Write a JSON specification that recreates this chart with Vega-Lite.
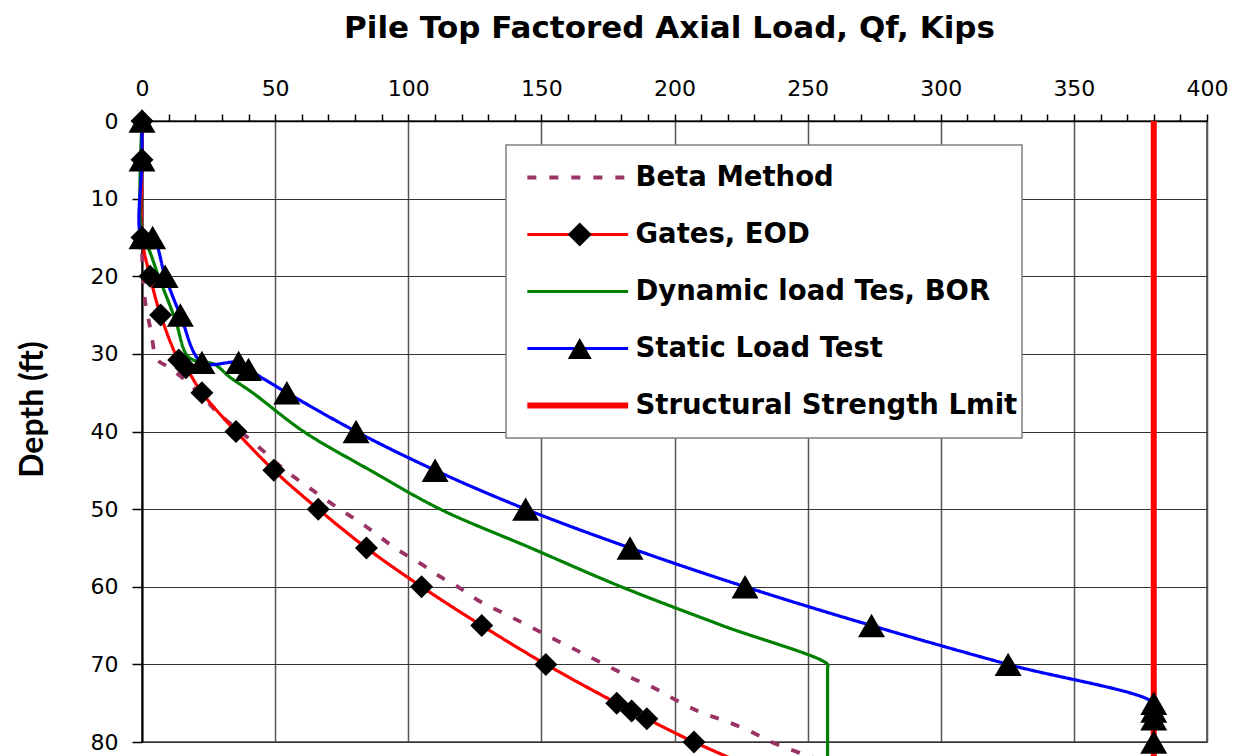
{
  "$schema": "https://vega.github.io/schema/vega-lite/v6.json",
  "width": 1065,
  "height": 621,
  "autosize": {"type": "none"},
  "padding": {"left": 142, "top": 121, "right": 36, "bottom": 14},
  "background": "white",
  "config": {"view": {"stroke": "#404040", "strokeWidth": 1.5}, "font": "DejaVu Sans"},
  "data": {"values": [
    {"series": "Beta Method", "load": 0, "depth": 0},
    {"series": "Beta Method", "load": 0, "depth": 16},
    {"series": "Beta Method", "load": 0.5, "depth": 21},
    {"series": "Beta Method", "load": 1.5, "depth": 24},
    {"series": "Beta Method", "load": 3, "depth": 26.5},
    {"series": "Beta Method", "load": 4, "depth": 28.5},
    {"series": "Beta Method", "load": 5, "depth": 30.3},
    {"series": "Beta Method", "load": 6.5, "depth": 31},
    {"series": "Beta Method", "load": 9.5, "depth": 31.6},
    {"series": "Beta Method", "load": 16, "depth": 33.3},
    {"series": "Beta Method", "load": 23, "depth": 35.6},
    {"series": "Beta Method", "load": 29.4, "depth": 37.9},
    {"series": "Beta Method", "load": 37, "depth": 40},
    {"series": "Beta Method", "load": 45.5, "depth": 42.5},
    {"series": "Beta Method", "load": 53.8, "depth": 45},
    {"series": "Beta Method", "load": 63, "depth": 47.3},
    {"series": "Beta Method", "load": 73.8, "depth": 49.9},
    {"series": "Beta Method", "load": 84, "depth": 52.2},
    {"series": "Beta Method", "load": 95, "depth": 55},
    {"series": "Beta Method", "load": 104.5, "depth": 57},
    {"series": "Beta Method", "load": 112, "depth": 58.7},
    {"series": "Beta Method", "load": 119.5, "depth": 60.2},
    {"series": "Beta Method", "load": 127, "depth": 61.9},
    {"series": "Beta Method", "load": 135.7, "depth": 63.4},
    {"series": "Beta Method", "load": 145, "depth": 65},
    {"series": "Beta Method", "load": 154.5, "depth": 66.7},
    {"series": "Beta Method", "load": 163.3, "depth": 68.2},
    {"series": "Beta Method", "load": 172, "depth": 69.7},
    {"series": "Beta Method", "load": 183, "depth": 71.6},
    {"series": "Beta Method", "load": 192.7, "depth": 73.1},
    {"series": "Beta Method", "load": 202.7, "depth": 75},
    {"series": "Beta Method", "load": 210.8, "depth": 76.3},
    {"series": "Beta Method", "load": 218.3, "depth": 77.2},
    {"series": "Beta Method", "load": 227.7, "depth": 78.5},
    {"series": "Beta Method", "load": 237, "depth": 80.1},
    {"series": "Beta Method", "load": 247, "depth": 81.4},
    {"series": "Beta Method", "load": 260, "depth": 83},
    {"series": "Gates, EOD", "load": 0, "depth": 0},
    {"series": "Gates, EOD", "load": 0, "depth": 5},
    {"series": "Gates, EOD", "load": 0, "depth": 15},
    {"series": "Gates, EOD", "load": 3, "depth": 20},
    {"series": "Gates, EOD", "load": 7, "depth": 25},
    {"series": "Gates, EOD", "load": 13.8, "depth": 30.8},
    {"series": "Gates, EOD", "load": 16.5, "depth": 31.8},
    {"series": "Gates, EOD", "load": 22.5, "depth": 35},
    {"series": "Gates, EOD", "load": 35.3, "depth": 40},
    {"series": "Gates, EOD", "load": 49.5, "depth": 45},
    {"series": "Gates, EOD", "load": 66.2, "depth": 50},
    {"series": "Gates, EOD", "load": 84.3, "depth": 55},
    {"series": "Gates, EOD", "load": 105, "depth": 60},
    {"series": "Gates, EOD", "load": 127.6, "depth": 65},
    {"series": "Gates, EOD", "load": 151.7, "depth": 70},
    {"series": "Gates, EOD", "load": 178.3, "depth": 75},
    {"series": "Gates, EOD", "load": 183.9, "depth": 76},
    {"series": "Gates, EOD", "load": 189.6, "depth": 77},
    {"series": "Gates, EOD", "load": 207.3, "depth": 80},
    {"series": "Gates, EOD", "load": 241, "depth": 85},
    {"series": "Dynamic load Tes, BOR", "load": 0, "depth": 0},
    {"series": "Dynamic load Tes, BOR", "load": 0, "depth": 15},
    {"series": "Dynamic load Tes, BOR", "load": 2.5, "depth": 16.5},
    {"series": "Dynamic load Tes, BOR", "load": 6.2, "depth": 20},
    {"series": "Dynamic load Tes, BOR", "load": 12.5, "depth": 25.6},
    {"series": "Dynamic load Tes, BOR", "load": 16.9, "depth": 30.2},
    {"series": "Dynamic load Tes, BOR", "load": 21, "depth": 31},
    {"series": "Dynamic load Tes, BOR", "load": 27, "depth": 31.3},
    {"series": "Dynamic load Tes, BOR", "load": 33, "depth": 33},
    {"series": "Dynamic load Tes, BOR", "load": 41.5, "depth": 35},
    {"series": "Dynamic load Tes, BOR", "load": 60.7, "depth": 40},
    {"series": "Dynamic load Tes, BOR", "load": 85.7, "depth": 45},
    {"series": "Dynamic load Tes, BOR", "load": 112, "depth": 50},
    {"series": "Dynamic load Tes, BOR", "load": 146, "depth": 55},
    {"series": "Dynamic load Tes, BOR", "load": 180, "depth": 60},
    {"series": "Dynamic load Tes, BOR", "load": 218, "depth": 65},
    {"series": "Dynamic load Tes, BOR", "load": 257.5, "depth": 70},
    {"series": "Dynamic load Tes, BOR", "load": 257.5, "depth": 70.5},
    {"series": "Dynamic load Tes, BOR", "load": 257.5, "depth": 95},
    {"series": "Static Load Test", "load": 0, "depth": 0},
    {"series": "Static Load Test", "load": 0, "depth": 5},
    {"series": "Static Load Test", "load": 0, "depth": 15},
    {"series": "Static Load Test", "load": 4, "depth": 15},
    {"series": "Static Load Test", "load": 8.7, "depth": 20},
    {"series": "Static Load Test", "load": 14.4, "depth": 25},
    {"series": "Static Load Test", "load": 22.5, "depth": 31.1},
    {"series": "Static Load Test", "load": 36.3, "depth": 31.1},
    {"series": "Static Load Test", "load": 40, "depth": 32},
    {"series": "Static Load Test", "load": 54.4, "depth": 35},
    {"series": "Static Load Test", "load": 80.4, "depth": 40},
    {"series": "Static Load Test", "load": 110.1, "depth": 45},
    {"series": "Static Load Test", "load": 144.1, "depth": 50},
    {"series": "Static Load Test", "load": 183.3, "depth": 55},
    {"series": "Static Load Test", "load": 226.5, "depth": 60},
    {"series": "Static Load Test", "load": 274, "depth": 65},
    {"series": "Static Load Test", "load": 325.3, "depth": 70},
    {"series": "Static Load Test", "load": 380, "depth": 75},
    {"series": "Static Load Test", "load": 380, "depth": 76},
    {"series": "Static Load Test", "load": 380, "depth": 77},
    {"series": "Static Load Test", "load": 380, "depth": 80},
    {"series": "Structural Strength Lmit", "load": 380, "depth": 0},
    {"series": "Structural Strength Lmit", "load": 380, "depth": 95}
  ]},
  "encoding": {
    "x": {
      "field": "load", "type": "quantitative",
      "scale": {"domain": [0, 400], "nice": false},
      "axis": {
        "orient": "top",
        "values": [0,10,20,30,40,50,60,70,80,90,100,110,120,130,140,150,160,170,180,190,200,210,220,230,240,250,260,270,280,290,300,310,320,330,340,350,360,370,380,390,400],
        "labelExpr": "datum.value % 50 === 0 ? datum.label : ''",
        "labelFont": "DejaVu Sans", "labelFontSize": 22, "labelColor": "black",
        "labelPadding": 14, "labelOverlap": false, "labelBound": false, "labelFlush": false,
        "tickColor": "black", "tickWidth": 1.5, "tickSize": 7,
        "domainColor": "black", "domainWidth": 1.5,
        "grid": true, "gridColor": "#555555", "gridWidth": 1.5,
        "gridOpacity": {"condition": {"test": "datum.value % 50 === 0", "value": 1}, "value": 0},
        "title": "Pile Top Factored Axial Load, Qf, Kips",
        "titleFont": "DejaVu Sans", "titleFontWeight": "bold", "titleFontSize": 31, "titleColor": "black",
        "titleX": 527, "titleY": -84, "titleBaseline": "alphabetic", "titleAlign": "center"
      }
    },
    "y": {
      "field": "depth", "type": "quantitative",
      "scale": {"domain": [0, 80], "reverse": true, "nice": false},
      "axis": {
        "orient": "left",
        "values": [0,10,20,30,40,50,60,70,80],
        "labelFont": "DejaVu Sans", "labelFontSize": 22, "labelColor": "black",
        "labelPadding": 14, "labelOverlap": false,
        "tickSize": 10, "tickColor": "black", "tickWidth": 1.5,
        "domainColor": "black", "domainWidth": 2,
        "grid": true, "gridColor": "#333333", "gridWidth": 1,
        "title": "Depth (ft)",
        "titleFont": "Lato",
        "titleFontWeight": "bold", "titleFontSize": 32, "titleColor": "black",
        "titleAngle": 270, "titleX": -100, "titleY": 288, "titleBaseline": "alphabetic", "titleAlign": "center"
      }
    }
  },
  "layer": [
    {
      "mark": {"type": "line", "interpolate": "catmull-rom"},
      "encoding": {
        "color": {
          "field": "series", "type": "nominal",
          "scale": {
            "domain": ["Beta Method", "Gates, EOD", "Dynamic load Tes, BOR", "Static Load Test", "Structural Strength Lmit"],
            "range": ["#993366", "#FF0000", "#008000", "#0000FF", "#FF0000"]
          },
          "legend": {
            "title": null, "orient": "none", "legendX": 364, "legendY": 24, "direction": "vertical",
            "padding": 4, "fillColor": "white", "strokeColor": "#808080",
            "clipHeight": 57, "rowPadding": 0,
            "symbolType": "M-4.2,0H4.2", "symbolSize": 576, "symbolOffset": 54, "symbolStrokeWidth": 3,
            "labelOffset": 44, "labelFont": "DejaVu Sans", "labelFontWeight": "bold", "labelFontSize": 27.5,
            "labelColor": "black", "labelLimit": 1000,
            "encode": {
              "legend": {"update": {"strokeWidth": {"value": 1.5}}},
              "symbols": {"update": {"strokeWidth": {"signal": "datum.value === 'Structural Strength Lmit' ? 6 : datum.value === 'Beta Method' ? 4 : 3.2"}}}
            }
          }
        },
        "strokeDash": {
          "field": "series", "type": "nominal",
          "scale": {
            "domain": ["Beta Method", "Gates, EOD", "Dynamic load Tes, BOR", "Static Load Test", "Structural Strength Lmit"],
            "range": [[9, 13], [1, 0], [1, 0], [1, 0], [1, 0]]
          },
          "legend": {
            "title": null, "orient": "none", "legendX": 364, "legendY": 24, "direction": "vertical",
            "padding": 4, "fillColor": "white", "strokeColor": "#808080",
            "clipHeight": 57, "rowPadding": 0,
            "symbolType": "M-4.2,0H4.2", "symbolSize": 576, "symbolOffset": 54, "symbolStrokeWidth": 3,
            "labelOffset": 44, "labelFont": "DejaVu Sans", "labelFontWeight": "bold", "labelFontSize": 27.5,
            "labelColor": "black", "labelLimit": 1000
          }
        },
        "strokeWidth": {
          "condition": [
            {"test": "datum.series === 'Structural Strength Lmit'", "value": 6},
            {"test": "datum.series === 'Beta Method'", "value": 3.8}
          ],
          "value": 3.2
        },
        "order": {"value": null}
      }
    },
    {
      "transform": [{"filter": "datum.series === 'Gates, EOD' || datum.series === 'Static Load Test'"}],
      "mark": {"type": "point", "filled": true, "color": "black", "opacity": 1, "strokeWidth": 0},
      "encoding": {
        "shape": {
          "field": "series", "type": "nominal",
          "scale": {"range": ["diamond", "triangle-up"]},
          "legend": {
            "title": null, "orient": "none", "legendX": 424, "legendY": 85, "direction": "vertical",
            "padding": 0, "clipHeight": 57, "rowPadding": 57,
            "symbolSize": 576, "symbolFillColor": "black", "symbolStrokeWidth": 0, "symbolOffset": 0,
            "labelExpr": "''", "labelFontSize": 27.5, "labelFont": "DejaVu Sans", "labelFontWeight": "bold"
          }
        },
        "size": {"condition": {"test": "datum.series === 'Static Load Test'", "value": 729}, "value": 529}
      }
    }
  ]
}
